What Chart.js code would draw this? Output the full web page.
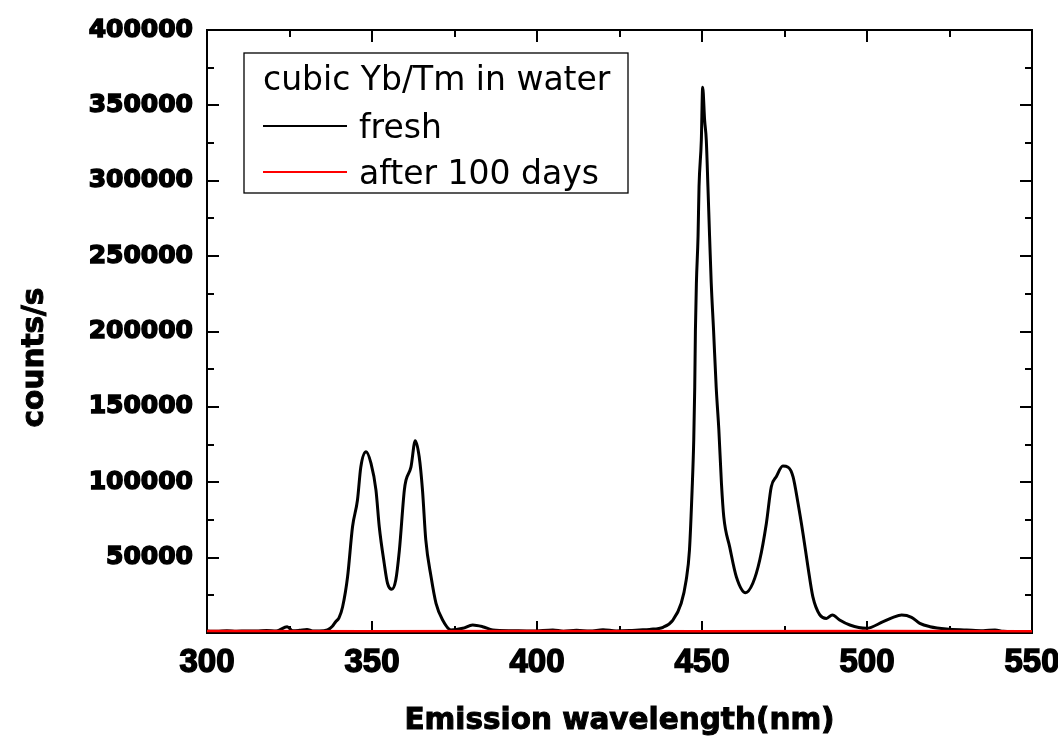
<!DOCTYPE html>
<html>
<head>
<meta charset="utf-8">
<title>cubic Yb/Tm in water</title>
<script src="https://cdn.jsdelivr.net/npm/chart.js@4.4.1/dist/chart.umd.min.js"></script>
<style>
  html, body { margin: 0; padding: 0; background: #fff; }
  canvas { display: block; }
</style>
</head>
<body>
<canvas id="spectrum" width="1058" height="740"></canvas>
<script>
// Emission spectrum values
const freshWavelength = [
    300, 303, 306, 309, 312, 315, 318, 321, 324.3, 326, 328, 330.3, 332, 334, 336.5, 338, 339, 340,
    341.1, 342.6, 344.1, 345.6, 346.6, 348.2, 349.7, 351.2, 352.2, 353.7, 354.7, 356, 357.2, 358.3,
    359.8, 360.3, 361.8, 363.1, 364.3, 365.3, 366.3, 367.9, 369.4, 371.4, 373.9, 377.5, 380.5, 383.5,
    386.6, 392.6, 398.7, 404.8, 408, 412, 416, 420, 424, 428, 431, 434.1, 438.2, 441.2, 443.7, 445.2,
    446.2, 447, 447.5, 447.8, 448, 448.3, 448.8, 449.1, 449.8, 450.2, 450.8, 451.3, 451.8, 452.3,
    452.8, 453.5, 454.3, 455.1, 455.9, 456.6, 458.4, 460.4, 463.2, 465.4, 467.5, 469.5, 471, 472.5,
    474.5, 476.1, 477.6, 479.1, 480.6, 482.1, 483.6, 485.7, 487.7, 489.5, 491.7, 494.8, 499.8, 504.9,
    507.9, 510.5, 513.5, 516, 519.1, 524.1, 530.2, 535.2, 538.8, 541.3, 545, 550
];
const freshCounts = [
    1300, 1100, 1500, 1200, 1400, 1300, 1600, 1300, 4200, 1500, 1800, 2400, 1400, 1300, 2000, 4500, 7500, 10000,
    17400, 37300, 70500, 88200, 110000, 120200, 112500, 94800, 70500, 46200, 33000, 29000, 35100, 55000,
    94800, 101400, 110000, 127500, 116900, 94800, 61700, 37300, 19700, 8600, 2000, 3100, 5300, 4200,
    2000, 1500, 1300, 2000, 1200, 1800, 1300, 2200, 1400, 1600, 2000, 2400, 3800, 8600, 19700, 35000,
    55000, 94800, 128000, 163000, 200000, 232000, 263000, 296000, 327000, 362000, 340000, 327000, 296000, 263000,
    232000, 201000, 163000, 135000, 99000, 77000, 57000, 37300, 26700, 33000, 48400, 72700, 97000, 103600,
    110700, 110000, 103600, 86000, 66000, 44000, 24000, 12000, 9700, 12000, 8600, 5300, 3100, 7500,
    10400, 11900, 10400, 6400, 4200, 2650, 2000, 1500, 2000, 1100, 900, 800
];
const agedWavelength = [300, 350, 400, 450, 500, 550];
const agedCounts = [1300, 1200, 1300, 1200, 1300, 1200];

const xTicks = [300, 350, 400, 450, 500, 550];
const xTickLabels = ['300', '350', '400', '450', '500', '550'];
const yTicks = [50000, 100000, 150000, 200000, 250000, 300000, 350000, 400000];
const yTickLabels = ['50000', '100000', '150000', '200000', '250000', '300000', '350000', '400000'];

const xTitle = 'Emission wavelength(nm)';
const yTitle = 'counts/s';
const legendTitle = 'cubic Yb/Tm in water';
const seriesNames = ['fresh', 'after 100 days'];
const seriesColors = ['#000000', '#ff0000'];

function toPoints(xs, ys) {
    return xs.map((x, i) => ({ x: x, y: ys[i] }));
}

// heavy text: fill plus a thin stroke, the original uses a very bold face
function heavyText(ctx, text, x, y) {
    ctx.fillText(text, x, y);
    ctx.strokeText(text, x, y);
}

// frame with inward major / minor ticks on all four sides, plus axis titles
const framePlugin = {
    id: 'frame',
    beforeDatasetsDraw(chart) {
        const { ctx, chartArea: a, scales: { x, y } } = chart;
        ctx.save();
        ctx.strokeStyle = '#000';
        ctx.lineWidth = 2;
        ctx.strokeRect(a.left, a.top, a.right - a.left, a.bottom - a.top);

        const major = 12, minor = 7;
        ctx.beginPath();
        const xs = xTicks;
        xs.forEach((v, i) => {
            const px = Math.round(x.getPixelForValue(v));
            if (i > 0 && i < xs.length - 1) {
                ctx.moveTo(px, a.bottom); ctx.lineTo(px, a.bottom - major);
                ctx.moveTo(px, a.top); ctx.lineTo(px, a.top + major);
            }
            if (i < xs.length - 1) {
                const mx = Math.round(x.getPixelForValue((v + xs[i + 1]) / 2));
                ctx.moveTo(mx, a.bottom); ctx.lineTo(mx, a.bottom - minor);
                ctx.moveTo(mx, a.top); ctx.lineTo(mx, a.top + minor);
            }
        });
        const ys = [0].concat(yTicks);
        ys.forEach((v, i) => {
            const py = Math.round(y.getPixelForValue(v));
            if (i > 0 && i < ys.length - 1) {
                ctx.moveTo(a.left, py); ctx.lineTo(a.left + major, py);
                ctx.moveTo(a.right, py); ctx.lineTo(a.right - major, py);
            }
            if (i < ys.length - 1) {
                const my = Math.round(y.getPixelForValue((v + ys[i + 1]) / 2));
                ctx.moveTo(a.left, my); ctx.lineTo(a.left + minor, my);
                ctx.moveTo(a.right, my); ctx.lineTo(a.right - minor, my);
            }
        });
        ctx.stroke();
        ctx.restore();
    },
    afterDraw(chart) {
        const { ctx, chartArea: a } = chart;
        ctx.save();
        ctx.font = 'bold 29.5px "DejaVu Sans"';
        ctx.fillStyle = '#000';
        ctx.strokeStyle = '#000';
        ctx.lineWidth = 1;
        ctx.textAlign = 'center';
        ctx.textBaseline = 'alphabetic';
        heavyText(ctx, xTitle, (a.left + a.right) / 2, 729);

        // y axis title, a bit below the plot centre like the original
        ctx.translate(43, (a.top + a.bottom) / 2 + 26);
        ctx.rotate(-Math.PI / 2);
        heavyText(ctx, yTitle, 0, 0);
        ctx.restore();
    }
};

// legend box inside the plot, upper left
const boxLegendPlugin = {
    id: 'boxLegend',
    afterDatasetsDraw(chart) {
        const { ctx, chartArea: a } = chart;
        const left = a.left + 37, top = a.top + 23;
        ctx.save();
        ctx.fillStyle = '#fff';
        ctx.fillRect(left, top, 384, 140);
        ctx.strokeStyle = '#000';
        ctx.lineWidth = 1.3;
        ctx.strokeRect(left, top, 384, 140);

        ctx.font = '33px "DejaVu Sans"';
        ctx.fillStyle = '#000';
        ctx.textBaseline = 'alphabetic';
        ctx.fillText(legendTitle, left + 19, top + 37);
        seriesNames.forEach((name, i) => {
            const ly = top + 73 + i * 46;
            ctx.strokeStyle = seriesColors[i];
            ctx.lineWidth = 2;
            ctx.beginPath();
            ctx.moveTo(left + 19, ly);
            ctx.lineTo(left + 103, ly);
            ctx.stroke();
            ctx.fillStyle = '#000';
            ctx.fillText(name, left + 115, ly + 12);
        });
        ctx.restore();
    }
};

const ctx = document.getElementById('spectrum').getContext('2d');
new Chart(ctx, {
    type: 'line',
    data: {
        datasets: [{
            label: seriesNames[0],
            data: toPoints(freshWavelength, freshCounts),
            borderColor: seriesColors[0],
            borderWidth: 3,
            pointRadius: 0,
            cubicInterpolationMode: 'monotone',
            order: 1
        }, {
            label: seriesNames[1],
            data: toPoints(agedWavelength, agedCounts),
            borderColor: seriesColors[1],
            borderWidth: 2.5,
            pointRadius: 0,
            tension: 0,
            order: 0
        }]
    },
    options: {
        responsive: false,
        devicePixelRatio: 1,
        animation: false,
        layout: {
            padding: { top: 30, right: 26, bottom: 0, left: 0 }
        },
        plugins: {
            legend: { display: false },
            tooltip: { enabled: false }
        },
        scales: {
            x: {
                type: 'linear',
                min: 300,
                max: 550,
                afterBuildTicks: scale => { scale.ticks = xTicks.map(v => ({ value: v })); },
                afterFit: scale => {
                    scale.height = 107;
                    scale.paddingLeft = 0;
                    scale.paddingRight = 0;
                },
                grid: { display: false, drawTicks: false },
                border: { display: false },
                ticks: {
                    autoSkip: false,
                    maxRotation: 0,
                    padding: 10,
                    color: '#000',
                    textStrokeColor: '#000',
                    textStrokeWidth: 1.5,
                    font: { family: '"Liberation Sans", Arial', weight: 'bold', size: 33 },
                    callback: (value, i) => xTickLabels[i]
                }
            },
            y: {
                type: 'linear',
                min: 0,
                max: 400000,
                afterBuildTicks: scale => { scale.ticks = yTicks.map(v => ({ value: v })); },
                afterFit: scale => {
                    scale.width = 207;
                    scale.paddingTop = 0;
                    scale.paddingBottom = 0;
                },
                grid: { display: false, drawTicks: false },
                border: { display: false },
                ticks: {
                    padding: 14,
                    color: '#000',
                    textStrokeColor: '#000',
                    textStrokeWidth: 1.5,
                    font: { family: '"DejaVu Sans"', weight: 'bold', size: 25 },
                    callback: (value, i) => yTickLabels[i]
                }
            }
        }
    },
    plugins: [framePlugin, boxLegendPlugin]
});
</script>
</body>
</html>
